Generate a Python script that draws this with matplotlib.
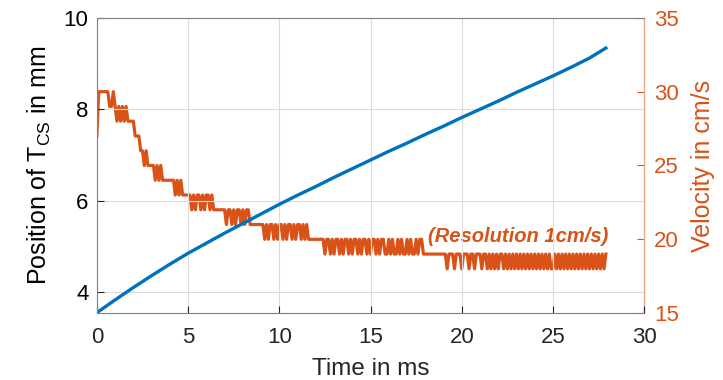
import numpy as np
import matplotlib.pyplot as plt

plt.rcParams['font.family'] = ['Liberation Sans', 'DejaVu Sans']
plt.rcParams['mathtext.fontset'] = 'custom'
plt.rcParams['mathtext.rm'] = 'Liberation Sans'
plt.rcParams['mathtext.it'] = 'Liberation Sans:italic'

# Position of T_CS (mm), read at 1 ms steps
pos_t = [0, 1, 2, 3, 4, 5, 6, 7, 8, 9, 10, 11, 12, 13, 14, 15, 16, 17, 18, 19,
         20, 21, 22, 23, 24, 25, 26, 27, 27.9]
pos_mm = [3.55, 3.83, 4.10, 4.36, 4.61, 4.85, 5.07, 5.29, 5.50, 5.71, 5.92,
          6.12, 6.31, 6.51, 6.70, 6.89, 7.08, 7.26, 7.45, 7.63, 7.82, 8.00,
          8.18, 8.37, 8.55, 8.73, 8.92, 9.12, 9.34]

# Velocity (cm/s), quantised at 1 cm/s, one value every 0.1 ms from t = 0
vel_dt = 0.1
vel_cms = [
    27, 30, 30, 30, 30, 30, 30, 29, 29, 30,
    29, 28, 29, 28, 29, 28, 29, 28, 28, 28,
    28, 27, 27, 27, 26, 26, 25, 26, 25, 25,
    25, 25, 24, 25, 24, 25, 24, 24, 24, 24,
    24, 24, 24, 23, 24, 23, 24, 23, 23, 23,
    23, 23, 22, 23, 22, 23, 23, 22, 23, 22,
    23, 23, 22, 23, 22, 22, 22, 22, 22, 22,
    22, 21, 22, 22, 21, 22, 21, 22, 22, 21,
    22, 21, 22, 22, 21, 21, 21, 21, 21, 21,
    21, 21, 20, 21, 20, 21, 21, 20, 21, 20,
    21, 21, 20, 21, 20, 21, 21, 20, 21, 20,
    21, 21, 20, 21, 20, 21, 20, 20, 20, 20,
    20, 20, 20, 20, 20, 19, 20, 20, 19, 20,
    19, 20, 20, 19, 20, 19, 20, 20, 19, 20,
    19, 20, 20, 19, 20, 19, 20, 20, 19, 20,
    19, 20, 20, 19, 20, 19, 20, 20, 19, 19,
    20, 19, 20, 19, 19, 20, 19, 20, 19, 19,
    20, 19, 20, 19, 19, 20, 19, 20, 20, 19,
    19, 19, 19, 19, 19, 19, 19, 19, 19, 19,
    19, 19, 18, 19, 19, 19, 18, 19, 19, 19,
    18, 19, 19, 19, 18, 19, 19, 18, 19, 19,
    19, 18, 19, 19, 18, 19, 18, 19, 18, 19,
    18, 19, 19, 18, 19, 18, 19, 18, 19, 18,
    19, 18, 19, 18, 19, 18, 19, 18, 19, 18,
    19, 18, 19, 18, 19, 18, 19, 18, 19, 18,
    18, 19, 18, 19, 18, 19, 18, 19, 18, 19,
    18, 19, 18, 19, 18, 19, 18, 19, 18, 19,
    18, 19, 18, 19, 18, 19, 18, 19, 18, 19,
]
vel_t = np.arange(len(vel_cms)) * vel_dt

blue = '#0072BD'
orange = '#D95319'
dark = '#262626'

fig = plt.figure(figsize=(7.23, 3.8), dpi=100)
ax1 = fig.add_axes([0.134, 0.176, 0.757, 0.777])
ax2 = ax1.twinx()

# position on top of velocity
ax1.set_zorder(ax2.get_zorder() + 1)
ax1.patch.set_visible(False)

ax2.plot(vel_t, vel_cms, color=orange, lw=2.3)
ax1.plot(pos_t, pos_mm, color=blue, lw=2.4)

ax1.set_xlim(0, 30)
ax1.set_ylim(3.54, 10)
ax2.set_ylim(15, 35)
ax1.set_xticks(np.arange(0, 31, 5))
ax1.set_yticks([4, 6, 8, 10])
ax2.set_yticks([15, 20, 25, 30, 35])

ax1.grid(True, color='#dcdcdc', lw=0.8)
ax1.set_axisbelow(True)

ax1.set_xlabel('Time in ms', fontsize=17.5, color=dark, labelpad=7)
ax1.set_ylabel(r'Position of T$_{\mathrm{CS}}$ in mm', fontsize=18,
               color='black', labelpad=8)
ax2.set_ylabel('Velocity in cm/s', fontsize=18, color=orange, labelpad=9)

ax1.tick_params(axis='both', direction='in', length=5, width=0.8,
                labelsize=16, colors=dark, top=False, right=False)
ax1.tick_params(axis='x', pad=10)
ax1.tick_params(axis='y', labelcolor='black', pad=6)
ax2.tick_params(axis='y', direction='in', length=5, width=0.8,
                labelsize=16, colors=orange, pad=7)

for s in ['left', 'top', 'bottom']:
    ax1.spines[s].set_color('#7f7f7f')
    ax1.spines[s].set_linewidth(0.8)
ax1.spines['right'].set_visible(False)
for s in ['left', 'top', 'bottom']:
    ax2.spines[s].set_visible(False)
ax2.spines['right'].set_color('#f0a888')
ax2.spines['right'].set_linewidth(1.0)

ax2.text(18.15, 20.2, '(Resolution 1cm/s)', color=orange, fontsize=14.5,
         fontweight='bold', fontstyle='italic', va='center', ha='left')

fig.savefig('out.png', dpi=100)
